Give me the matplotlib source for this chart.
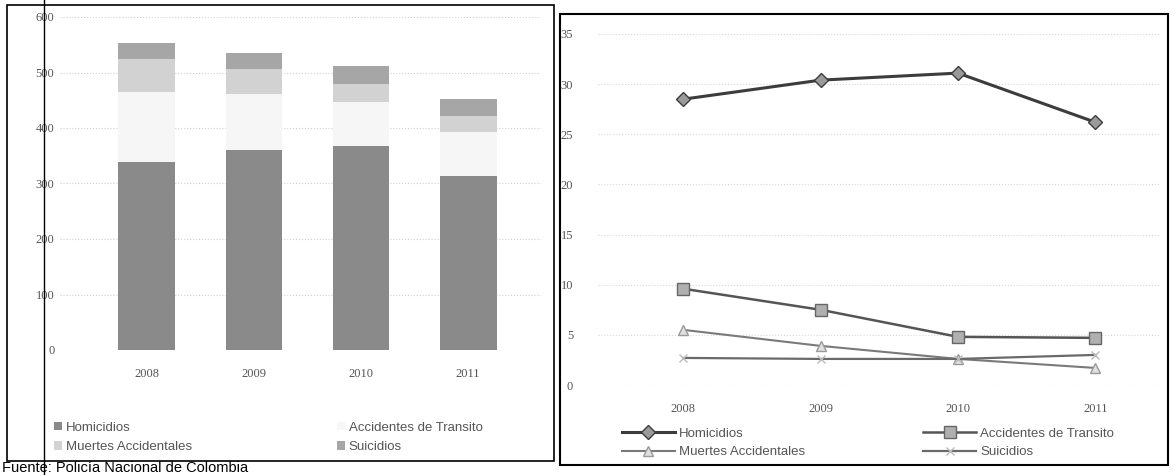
import matplotlib
matplotlib.use('Agg')
import matplotlib.pyplot as plt
from matplotlib.lines import Line2D
from matplotlib.patches import Rectangle
import numpy as np

# data
years = ['2008', '2009', '2010', '2011']
# left: number of deaths (stacked)
homicidios = [338, 361, 367, 313]
accidentes_transito = [126, 100, 80, 79]
muertes_accidentales = [60, 45, 32, 30]
suicidios = [30, 30, 33, 30]
# right: rates
tasa_homicidios = [28.5, 30.4, 31.1, 26.2]
tasa_accidentes = [9.6, 7.5, 4.8, 4.7]
tasa_muertes = [5.5, 3.9, 2.6, 1.7]
tasa_suicidios = [2.7, 2.6, 2.6, 3.0]

bar_labels = ['Homicidios', 'Accidentes de Transito', 'Muertes Accidentales', 'Suicidios']
bar_colors = ['#8a8a8a', '#f6f6f6', '#d2d2d2', '#a6a6a6']

W, H = 1175, 475
fig = plt.figure(figsize=(W / 100, H / 100), dpi=100)
plt.rcParams['font.family'] = ['Liberation Sans', 'DejaVu Sans']


def px_axes(x0, y0, x1, y1):
    # pixel box (top-left origin) -> figure axes
    return fig.add_axes([x0 / W, 1 - y1 / H, (x1 - x0) / W, (y1 - y0) / H])


txt_color = '#555555'

# ---- left: stacked bars
ax1 = px_axes(60, 17, 541, 350)
x = np.arange(len(years))
bottom = np.zeros(len(years))
series = [homicidios, accidentes_transito, muertes_accidentales, suicidios]
for vals, lab, col in zip(series, bar_labels, bar_colors):
    ax1.bar(x, vals, width=0.53, bottom=bottom, color=col, label=lab,
            edgecolor='none', hatch='....' if col != '#f6f6f6' else None)
    bottom += np.array(vals)
ax1.set_ylim(0, 600)
ax1.set_xlim(-0.81, 3.68)
ax1.set_yticks(range(0, 601, 100))
ax1.set_xticks(x)
ax1.set_xticklabels(years)
ax1.yaxis.grid(True, color='#cfcfcf', linestyle=':', linewidth=0.8)
ax1.set_axisbelow(True)
for s in ax1.spines.values():
    s.set_visible(False)
ax1.tick_params(length=0, colors=txt_color, labelsize=9)
ax1.tick_params(axis='x', pad=13)
ax1.tick_params(axis='y', pad=4)
for t in ax1.get_xticklabels() + ax1.get_yticklabels():
    t.set_family('Liberation Serif')

h1, l1 = ax1.get_legend_handles_labels()
order = [0, 2, 1, 3]
leg1 = fig.legend([h1[i] for i in order], [l1[i] for i in order],
                  ncol=2, loc='upper left', bbox_to_anchor=(42 / W, 1 - 410 / H),
                  frameon=False, fontsize=9.5, handlelength=0.6, handleheight=0.6,
                  handletextpad=0.3, columnspacing=11, labelspacing=0.55)
for t in leg1.get_texts():
    t.set_color(txt_color)

# ---- right: lines
ax2 = px_axes(598, 34, 1160, 385)
ax2.plot(x, tasa_homicidios, color='#3c3c3c', lw=2.2, marker='D', ms=7,
         mfc='#9a9a9a', mec='#3c3c3c', label='Homicidios')
ax2.plot(x, tasa_accidentes, color='#555555', lw=1.8, marker='s', ms=8,
         mfc='#b0b0b0', mec='#666666', label='Accidentes de Transito')
ax2.plot(x, tasa_muertes, color='#7a7a7a', lw=1.5, marker='^', ms=7,
         mfc='#e0e0e0', mec='#9a9a9a', label='Muertes Accidentales')
ax2.plot(x, tasa_suicidios, color='#6a6a6a', lw=1.6, marker='x', ms=6,
         mec='#bbbbbb', label='Suicidios')
ax2.set_ylim(0, 35)
ax2.set_xlim(-0.62, 3.47)
ax2.set_yticks(range(0, 36, 5))
ax2.set_xticks(x)
ax2.set_xticklabels(years)
ax2.yaxis.grid(True, color='#d8d8d8', linestyle=':', linewidth=0.8)
for s in ax2.spines.values():
    s.set_visible(False)
ax2.tick_params(length=0, colors=txt_color, labelsize=9)
ax2.tick_params(axis='x', pad=13)
ax2.tick_params(axis='y', pad=18)
for t in ax2.get_xticklabels() + ax2.get_yticklabels():
    t.set_family('Liberation Serif')

h2, l2 = ax2.get_legend_handles_labels()
leg2 = fig.legend([h2[i] for i in order], [l2[i] for i in order],
                  ncol=2, loc='upper left', bbox_to_anchor=(610 / W, 1 - 416 / H),
                  frameon=False, fontsize=9.5, handlelength=4.0,
                  handletextpad=0.3, columnspacing=9, labelspacing=0.45)
for t in leg2.get_texts():
    t.set_color(txt_color)

# ---- panel borders of the scanned page
def px_rect(x0, y0, x1, y1, lw=1.2):
    fig.add_artist(Rectangle((x0 / W, 1 - y1 / H), (x1 - x0) / W, (y1 - y0) / H,
                             transform=fig.transFigure, fill=False,
                             edgecolor='black', linewidth=lw))

px_rect(7, 5, 554, 461)
px_rect(560, 14, 1168, 465, lw=1.5)
fig.add_artist(Line2D([44 / W, 44 / W], [0, 1], transform=fig.transFigure,
                      color='black', lw=1.0))

fig.text(2 / W, 1 - 461 / H, 'Fuente: Policía Nacional de Colombia',
         fontsize=10.5, va='top', ha='left', color='black')

fig.savefig('out.png', dpi=100)
